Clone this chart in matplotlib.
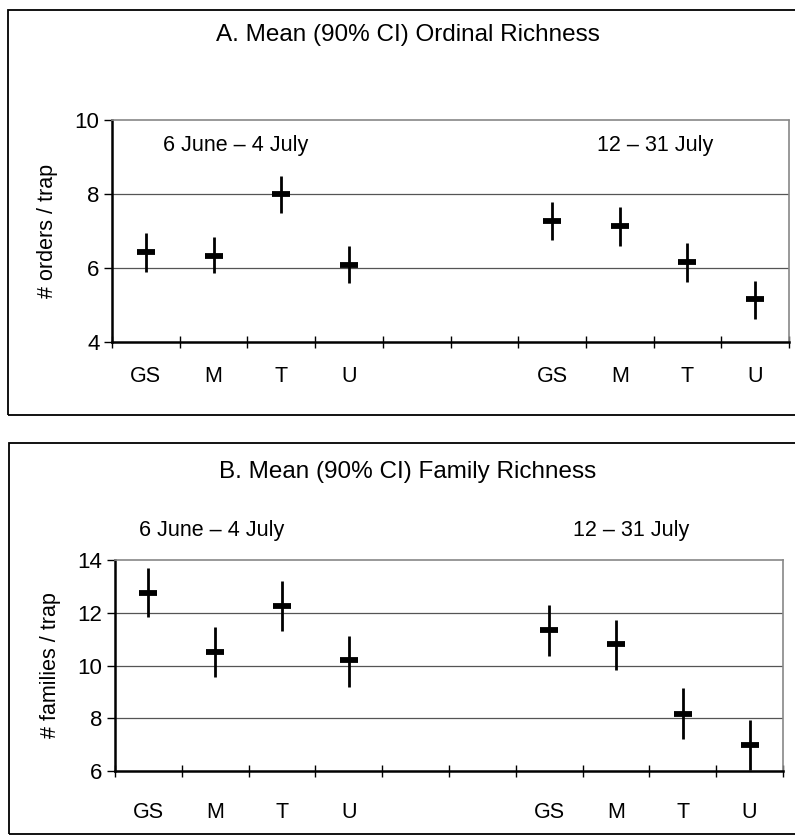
import matplotlib
matplotlib.use("Agg")
import matplotlib.pyplot as plt
from matplotlib.patches import Rectangle
import numpy as np

plt.rcParams['font.family'] = ['Liberation Sans', 'DejaVu Sans']

# Site categories and their slots on the x axis (two sampling periods)
sites = ["GS", "M", "T", "U", "GS", "M", "T", "U"]
slots = [0, 1, 2, 3, 6, 7, 8, 9]
period_labels = ["6 June \u2013 4 July", "12 \u2013 31 July"]

# A. Ordinal richness: mean and 90% CI bounds
order_mean = [6.44, 6.32, 8.00, 6.08, 7.28, 7.14, 6.17, 5.15]
order_lo = [5.90, 5.86, 7.48, 5.59, 6.76, 6.59, 5.61, 4.61]
order_hi = [6.94, 6.83, 8.49, 6.60, 7.78, 7.66, 6.67, 5.65]

# B. Family richness: mean and 90% CI bounds
family_mean = [12.76, 10.52, 12.27, 10.19, 11.35, 10.80, 8.18, 7.00]
family_lo = [11.83, 9.58, 11.30, 9.18, 10.37, 9.83, 7.20, 6.03]
family_hi = [13.70, 11.45, 13.20, 11.12, 12.28, 11.72, 9.14, 7.95]

W, H = 795, 839
fig = plt.figure(figsize=(W / 100, H / 100), dpi=100)


def px_rect(x0, y0, x1, y1):
    return [x0 / W, 1 - y1 / H, (x1 - x0) / W, (y1 - y0) / H]


# Panel frames
for (x0, y0, x1, y1) in [(8, 10, 805, 415), (9, 443, 805, 834)]:
    fig.patches.append(Rectangle((x0 / W, 1 - y1 / H), (x1 - x0) / W, (y1 - y0) / H,
                                 transform=fig.transFigure, fill=False,
                                 edgecolor="black", linewidth=1.3))


def draw_panel(ax, mean, lo, hi, ylim, yticks, ylabel, xpad):
    mean = np.asarray(mean)
    yerr = [mean - np.asarray(lo), np.asarray(hi) - mean]
    ax.set_xlim(-0.5, 9.5)
    ax.set_ylim(*ylim)
    ax.set_yticks(yticks)
    ax.set_yticklabels([str(t) for t in yticks])
    for y in yticks[1:-1]:
        ax.axhline(y, color="#555555", linewidth=0.9, zorder=1)
    ax.errorbar(slots, mean, yerr=yerr, fmt="none", ecolor="black",
                elinewidth=2.0, capsize=0, zorder=3)
    ax.plot(slots, mean, linestyle="none", marker="_", markersize=12.5,
            markeredgewidth=4.2, color="black", zorder=4)
    ax.set_xticks(slots)
    ax.set_xticklabels(sites, fontsize=15.5)
    ax.set_xticks(np.arange(-0.5, 10, 1.0), minor=True)
    ax.tick_params(axis="x", which="major", length=0, pad=xpad)
    ax.tick_params(axis="x", which="minor", direction="inout", length=9, width=1.0)
    ax.tick_params(axis="y", direction="out", length=6, width=1.0, labelsize=16, pad=3)
    ax.set_ylabel(ylabel, fontsize=15.5, labelpad=12)
    for side in ("top", "right"):
        ax.spines[side].set_color("#888888")
        ax.spines[side].set_linestyle((0, (1, 1)))
        ax.spines[side].set_linewidth(1.2)
    ax.spines["left"].set_linewidth(1.8)
    ax.spines["bottom"].set_linewidth(1.8)


axA = fig.add_axes(px_rect(112, 120, 789, 342))
draw_panel(axA, order_mean, order_lo, order_hi, (4, 10), [4, 6, 8, 10],
           "# orders / trap", 17)
axA.text(0.182, 0.887, period_labels[0], transform=axA.transAxes,
         ha="center", va="center", fontsize=15.5)
axA.text(0.802, 0.887, period_labels[1], transform=axA.transAxes,
         ha="center", va="center", fontsize=15.5)
fig.text(408 / W, 1 - 35 / H, "A. Mean (90% CI) Ordinal Richness",
         ha="center", va="center", fontsize=17.5)

axB = fig.add_axes(px_rect(115, 560, 783, 771))
draw_panel(axB, family_mean, family_lo, family_hi, (6, 14), [6, 8, 10, 12, 14],
           "# families / trap", 22)
axB.text(0.144, 1.142, period_labels[0], transform=axB.transAxes,
         ha="center", va="center", fontsize=15.5)
axB.text(0.773, 1.142, period_labels[1], transform=axB.transAxes,
         ha="center", va="center", fontsize=15.5)
fig.text(408 / W, 1 - 472 / H, "B. Mean (90% CI) Family Richness",
         ha="center", va="center", fontsize=17.5)

fig.savefig("out.png", dpi=100)
